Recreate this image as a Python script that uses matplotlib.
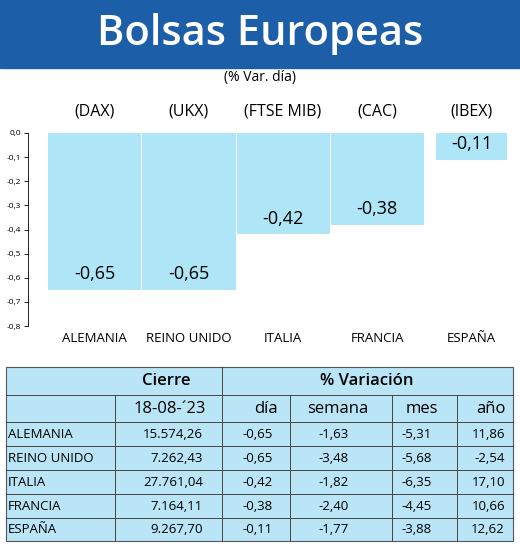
import matplotlib.pyplot as plt
from matplotlib.patches import Rectangle

paises = ["ALEMANIA", "REINO UNIDO", "ITALIA", "FRANCIA", "ESPAÑA"]
indices = ["(DAX)", "(UKX)", "(FTSE MIB)", "(CAC)", "(IBEX)"]
var_dia = [-0.65, -0.65, -0.42, -0.38, -0.11]
cierre = ["15.574,26", "7.262,43", "27.761,04", "7.164,11", "9.267,70"]
semana = ["-1,63", "-3,48", "-1,82", "-2,40", "-1,77"]
mes = ["-5,31", "-5,68", "-6,35", "-4,45", "-3,88"]
anio = ["11,86", "-2,54", "17,10", "10,66", "12,62"]

W, H = 520, 551
fig = plt.figure(figsize=(W / 100, H / 100), dpi=100)
plt.rcParams['font.family'] = ['Open Sans', 'DejaVu Sans']

def fx(x):
    return x / W

def fy(y):
    return 1 - y / H

def txt(x, y, s, **kw):
    fig.text(fx(x), fy(y), s, va='center', **kw)

# title band
fig.patches.append(Rectangle((0, fy(68)), 1, 68 / H, transform=fig.transFigure,
                             color='#1c5fa8', zorder=0))
txt(W / 2, 34, "Bolsas Europeas", ha='center', color='white', fontsize=30, fontweight='semibold')
txt(W / 2, 78, "(% Var. día)", ha='center', fontsize=10)

# bar chart
ax = fig.add_axes([fx(28), fy(326), fx(510 - 28), (326 - 133) / H])
xs = list(range(len(paises)))
widths = [0.99, 0.99, 0.99, 0.99, 0.75]
ax.bar(xs, var_dia, width=widths, color='#aee6f7')
ax.set_ylim(-0.8, 0)
ax.set_xlim(-0.71, 4.41)
ax.set_yticks([-0.8, -0.7, -0.6, -0.5, -0.4, -0.3, -0.2, -0.1, 0.0])
ax.set_yticklabels([f"{v:.1f}".replace(".", ",") for v in ax.get_yticks()], fontsize=6)
ax.tick_params(axis='y', length=3, width=0.6, pad=2)
ax.set_xticks([])
for s in ["top", "right", "bottom"]:
    ax.spines[s].set_visible(False)
ax.spines["left"].set_linewidth(0.6)
for x, v in zip(xs, var_dia):
    ax.text(x, v + 0.065, f"{v:.2f}".replace(".", ","), ha='center', va='center', fontsize=13)
for x, p, i in zip(xs, paises, indices):
    fig.text(ax.transData.transform((x, 0))[0] / W, fy(112), i, ha='center', va='center', fontsize=11.5)
    fig.text(ax.transData.transform((x, 0))[0] / W, fy(338), p, ha='center', va='center', fontsize=9.5)

# table
t_top, t_bot, t_l, t_r = 367, 541, 6, 513
fig.patches.append(Rectangle((fx(t_l), fy(t_bot)), fx(t_r - t_l), (t_bot - t_top) / H,
                             transform=fig.transFigure, facecolor='#b9e5f6',
                             edgecolor='#555555', lw=0.8))
rows_y = [367, 395, 422, 446, 470, 494, 518, 541]

def hline(y, x0=t_l, x1=t_r):
    fig.add_artist(plt.Line2D([fx(x0), fx(x1)], [fy(y), fy(y)], color='#444444', lw=0.7))

def vline(x, y0, y1):
    fig.add_artist(plt.Line2D([fx(x), fx(x)], [fy(y0), fy(y1)], color='#444444', lw=0.7))

for y in rows_y[1:-1]:
    hline(y)
vline(115, 395, t_bot)
vline(222, t_top, t_bot)
for x in [290, 392, 457]:
    vline(x, 395, t_bot)

txt(166, 381, "Cierre", ha='center', fontsize=12, fontweight='semibold')
txt(367, 381, "% Variación", ha='center', fontsize=12, fontweight='semibold')
txt(206, 409, "18-08-´23", ha='right', fontsize=12)
txt(278, 409, "día", ha='right', fontsize=12)
txt(338, 409, "semana", ha='center', fontsize=12)
txt(438, 409, "mes", ha='right', fontsize=12)
txt(506, 409, "año", ha='right', fontsize=12)

for k in range(len(paises)):
    yc = (rows_y[k + 2] + rows_y[k + 3]) / 2
    txt(8, yc, paises[k], ha='left', fontsize=9.5)
    txt(203, yc, cierre[k], ha='right', fontsize=9.5)
    txt(273, yc, f"{var_dia[k]:.2f}".replace(".", ","), ha='right', fontsize=9.5)
    txt(349, yc, semana[k], ha='right', fontsize=9.5)
    txt(432, yc, mes[k], ha='right', fontsize=9.5)
    txt(505, yc, anio[k], ha='right', fontsize=9.5)

fig.savefig("out.png", dpi=100)
